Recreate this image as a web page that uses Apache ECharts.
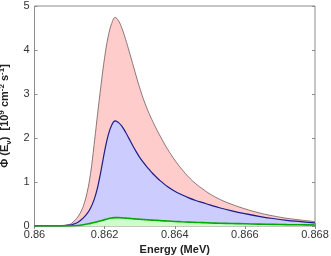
<!DOCTYPE html>
<html><head><meta charset="utf-8">
<script src="https://cdn.jsdelivr.net/npm/echarts@6/dist/echarts.min.js"></script>
<style>html,body{margin:0;padding:0;background:#fff}#c{width:331px;height:256px}</style>
</head><body><div id="c"></div>
<script>
const energy = [0.8600,0.8605,
  0.8610,0.8611,0.8612,0.8613,0.8614,0.8615,0.8616,0.8617,0.8618,0.8619,0.8620,0.8621,0.8622,0.8623,0.8624,0.8625,0.8626,0.8627,0.8628,0.8629,0.8630,0.8631,0.8632,0.8633,0.8634,0.8635,0.8636,
  0.8638,0.8640,0.8642,0.8644,0.8646,0.8648,0.8650,
  0.8653,0.8656,0.8660,0.8664,0.8668,0.8672,0.8676,0.8680];
const redTotal = [0,0,
  0.035,0.09,0.17,0.29,0.47,0.76,1.2,1.85,2.55,3.22,3.83,4.3,4.6,4.74,4.66,4.48,4.24,3.97,3.69,3.41,3.14,2.9,2.69,2.5,2.33,2.17,2.02,
  1.74,1.5,1.29,1.11,0.96,0.84,0.73,
  0.6,0.5,0.39,0.3,0.23,0.175,0.135,0.1];
const blueFlux = [0,0,
  0.02,0.04,0.07,0.12,0.19,0.28,0.41,0.6,0.88,1.27,1.7,2.06,2.29,2.39,2.35,2.26,2.13,1.98,1.83,1.69,1.56,1.45,1.35,1.26,1.17,1.09,1.02,
  0.89,0.79,0.71,0.64,0.58,0.53,0.48,
  0.41,0.35,0.28,0.22,0.17,0.13,0.1,0.07];
const greenFlux = [0,0,
  0.003,0.006,0.01,0.018,0.03,0.045,0.06,0.08,0.1,0.12,0.145,0.165,0.18,0.19,0.19,0.185,0.18,0.173,0.166,0.16,0.154,0.148,0.142,0.137,0.132,0.127,0.122,
  0.113,0.104,0.096,0.089,0.082,0.076,0.07,
  0.063,0.057,0.05,0.043,0.037,0.032,0.028,0.024];
const xTicks = [0.86,0.862,0.864,0.866,0.868];
const yTicks = [0,1,2,3,4,5];

const pair = arr => energy.map((e,i)=>[e,arr[i]]);
const chart = echarts.init(document.getElementById('c'));
const axisCol = '#8c8c8c';
const font = 'Liberation Sans, Arial, sans-serif';
chart.setOption({
  animation:false,
  grid:{left:34.5,right:16,top:6,bottom:30,outerBoundsMode:'none',containLabel:false,show:true,borderColor:axisCol,borderWidth:1},
  xAxis:[{
    type:'value',min:0.86,max:0.868,interval:0.002,
    axisLine:{show:false},
    axisTick:{inside:true,length:3,lineStyle:{color:axisCol}},
    splitLine:{show:false},
    axisLabel:{color:'#333',fontSize:11,fontFamily:font,margin:3,formatter:v=>{const t=xTicks.find(x=>Math.abs(x-v)<1e-9);return t===undefined?'':String(t);}},
    name:'Energy (MeV)',nameLocation:'middle',nameGap:17,
    nameTextStyle:{color:'#222',fontSize:11,fontWeight:'bold',fontFamily:font}
  },{
    type:'value',position:'top',min:0.86,max:0.868,interval:0.002,
    axisLine:{show:false},axisTick:{inside:true,length:3,lineStyle:{color:axisCol}},
    axisLabel:{show:false},splitLine:{show:false}
  }],
  yAxis:[{
    type:'value',min:0,max:5,interval:1,
    axisLine:{show:false},
    axisTick:{inside:true,length:3,lineStyle:{color:axisCol}},
    splitLine:{show:false},
    axisLabel:{color:'#333',fontSize:11,fontFamily:font,margin:5,formatter:v=>yTicks.includes(v)?String(v):''},
    name:'{a|Φ (E}{sub|ν}{a|)  [10}{sup|9}{a| cm}{sup|-2}{a| s}{sup|-1}{a|]}',
    nameLocation:'middle',nameGap:20,nameRotate:90,
    nameTextStyle:{rich:{
      a:{fontSize:11,fontWeight:'bold',color:'#222',fontFamily:font},
      sub:{fontSize:8,fontWeight:'bold',color:'#222',fontFamily:font,padding:[7,0,0,0]},
      sup:{fontSize:8,fontWeight:'bold',color:'#222',fontFamily:font,padding:[0,0,7,0]}
    }}
  },{
    type:'value',position:'right',min:0,max:5,interval:1,
    axisLine:{show:false},axisTick:{inside:true,length:3,lineStyle:{color:axisCol}},
    axisLabel:{show:false},splitLine:{show:false}
  }],
  series:[
    {type:'line',data:pair(redTotal),smooth:0.4,symbol:'none',lineStyle:{color:'#6e5a5a',width:0.8},areaStyle:{color:'#ffcccc',opacity:1},z:2},
    {type:'line',data:pair(blueFlux),smooth:0.4,symbol:'none',lineStyle:{color:'#1c1c8a',width:1.2},areaStyle:{color:'#ccccff',opacity:1},z:3},
    {type:'line',data:pair(greenFlux),smooth:0.4,symbol:'none',lineStyle:{color:'#00a800',width:1.6},areaStyle:{color:'#ccffcc',opacity:1},z:4}
  ]
});
</script></body></html>
